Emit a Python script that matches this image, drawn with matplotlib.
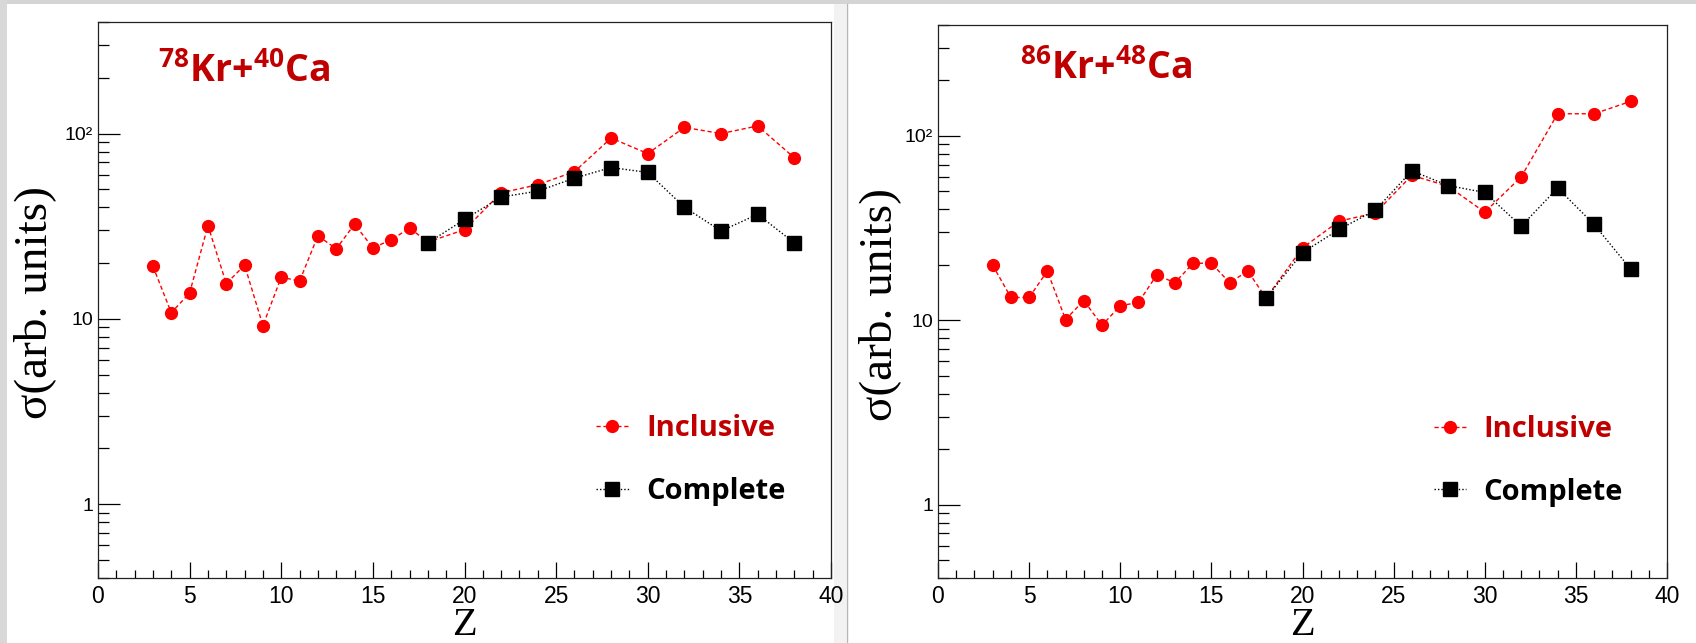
#cross section vs Z, two reactions side by side

import matplotlib
matplotlib.use('Agg')
import matplotlib.pyplot as plt
from matplotlib.patches import Rectangle
from matplotlib.lines import Line2D
from matplotlib.ticker import FixedLocator, FixedFormatter, LogLocator, NullFormatter, MultipleLocator

plt.rcParams['mathtext.fontset'] = 'custom'
plt.rcParams['mathtext.rm'] = 'Open Sans'
plt.rcParams['mathtext.bf'] = 'Open Sans:bold'

# 78Kr + 40Ca
z_incl_78 = [3, 4, 5, 6, 7, 8, 9, 10, 11, 12, 13, 14, 15, 16, 17, 18, 20, 22, 24, 26, 28, 30, 32, 34, 36, 38]
incl_78 = [19.2, 10.8, 13.8, 31.9, 15.5, 19.5, 9.2, 16.8, 16.0, 28.1, 23.9, 32.4, 24.2, 26.7, 30.9, 26.0,
           30.3, 47.9, 53.0, 62.3, 94.6, 78.0, 108, 100, 110, 74]
z_comp_78 = [18, 20, 22, 24, 26, 28, 30, 32, 34, 36, 38]
comp_78 = [25.7, 34.4, 45.5, 48.9, 57.5, 65.6, 61.7, 40.1, 29.8, 36.7, 25.7]

# 86Kr + 48Ca
z_incl_86 = [3, 4, 5, 6, 7, 8, 9, 10, 11, 12, 13, 14, 15, 16, 17, 18, 20, 22, 24, 26, 28, 30, 32, 34, 36, 38]
incl_86 = [19.9, 13.3, 13.3, 18.5, 10.1, 12.8, 9.4, 12.0, 12.5, 17.6, 16.0, 20.4, 20.4, 16.0, 18.5, 13.2,
           24.7, 34.5, 38.2, 61.2, 53.3, 38.6, 60.0, 132, 132, 154]
z_comp_86 = [18, 20, 22, 24, 26, 28, 30, 32, 34, 36, 38]
comp_86 = [13.2, 23.3, 31.1, 39.6, 64.7, 53.8, 49.4, 32.4, 52.2, 33.1, 19.0]

titles = [r'$\mathbf{{}^{78}Kr{+}{}^{40}Ca}$', r'$\mathbf{{}^{86}Kr{+}{}^{48}Ca}$']
ytick_vals = [1, 10, 100]
ytick_text = ['1', '10', '10²']

TITLE_RED = '#c00000'
tick_font = ['Liberation Sans Narrow', 'Liberation Sans']
serif_font = ['Liberation Serif', 'DejaVu Serif']

fig = plt.figure(figsize=(16.96, 6.43), dpi=100)

# screenshot frame: grey strips and the divider between the two canvases (behind the axes)
fig.add_artist(Rectangle((0, 1 - 4 / 643), 1, 4 / 643, transform=fig.transFigure, color='#d4d4d4', lw=0, zorder=-5))
fig.add_artist(Rectangle((0, 0), 7 / 1696, 1, transform=fig.transFigure, color='#d8d8d8', lw=0, zorder=-5))
fig.add_artist(Rectangle((834 / 1696, 0), 12 / 1696, 1 - 4 / 643, transform=fig.transFigure, color='#f2f2f2', lw=0, zorder=-5))
fig.add_artist(Line2D([846.5 / 1696] * 2, [0, 1 - 4 / 643], transform=fig.transFigure, color='#b5b5b5', lw=1, zorder=-5))

ax1 = fig.add_axes([98 / 1696, 65 / 643, 733 / 1696, 556 / 643])
ax2 = fig.add_axes([938 / 1696, 65 / 643, 729 / 1696, 553 / 643])
for a in (ax1, ax2):
    a.patch.set_alpha(0)


def draw_panel(ax, z_incl, incl, z_comp, comp, title, title_pos, ylab_x):
    l_incl, = ax.plot(z_incl, incl, color='red', lw=1, dashes=(3, 2), marker='o', ms=8.5,
                      mec='red', mfc='red')
    l_comp, = ax.plot(z_comp, comp, color='black', lw=1, dashes=(1, 1.5), marker='s', ms=10,
                      mec='black', mfc='black')

    ax.set_yscale('log')
    ax.set_xlim(0, 40)
    ax.set_ylim(0.4, 400)

    # ROOT-like ticks: inside, bottom/left only
    ax.xaxis.set_major_locator(MultipleLocator(5))
    ax.xaxis.set_minor_locator(MultipleLocator(1))
    ax.yaxis.set_major_locator(FixedLocator(ytick_vals))
    ax.yaxis.set_major_formatter(FixedFormatter(ytick_text))
    ax.yaxis.set_minor_locator(LogLocator(base=10, subs=range(2, 10)))
    ax.yaxis.set_minor_formatter(NullFormatter())
    ax.tick_params(axis='x', which='major', direction='in', length=11.5, width=0.9, pad=5, labelsize=16.5)
    ax.tick_params(axis='x', which='minor', direction='in', length=6, width=0.9)
    ax.tick_params(axis='y', which='major', direction='in', length=16, width=0.9, pad=3.5, labelsize=14)
    ax.tick_params(axis='y', which='minor', direction='in', length=8, width=0.9)
    for lab in ax.get_xticklabels() + ax.get_yticklabels():
        lab.set_family(tick_font)
    for sp in ax.spines.values():
        sp.set_linewidth(0.9)
        sp.set_color('#222222')

    ax.set_xlabel('Z', family=serif_font, fontsize=29)
    ax.xaxis.set_label_coords(0.5, -0.052)
    ax.set_ylabel('σ(arb. units)', family=serif_font, fontsize=34, va='center')
    ax.yaxis.set_label_coords(ylab_x, 0.495)

    ax.text(title_pos[0], title_pos[1], title, transform=ax.transAxes, fontsize=27,
            color=TITLE_RED, ha='left', va='baseline')

    leg = ax.legend([l_incl, l_comp], ['Inclusive', 'Complete'], loc='center left',
                    bbox_to_anchor=(0.68, 0.212), frameon=False, borderpad=0, borderaxespad=0,
                    handlelength=1.1, handletextpad=0.6, labelspacing=1.15,
                    prop={'family': 'Open Sans', 'weight': 'bold', 'size': 21})
    leg.get_texts()[0].set_color(TITLE_RED)
    leg.get_texts()[1].set_color('black')


draw_panel(ax1, z_incl_78, incl_78, z_comp_78, comp_78, titles[0], (0.082, 0.892), -0.086)
draw_panel(ax2, z_incl_86, incl_86, z_comp_86, comp_86, titles[1], (0.113, 0.902), -0.080)

fig.savefig('out.png', dpi=100)
